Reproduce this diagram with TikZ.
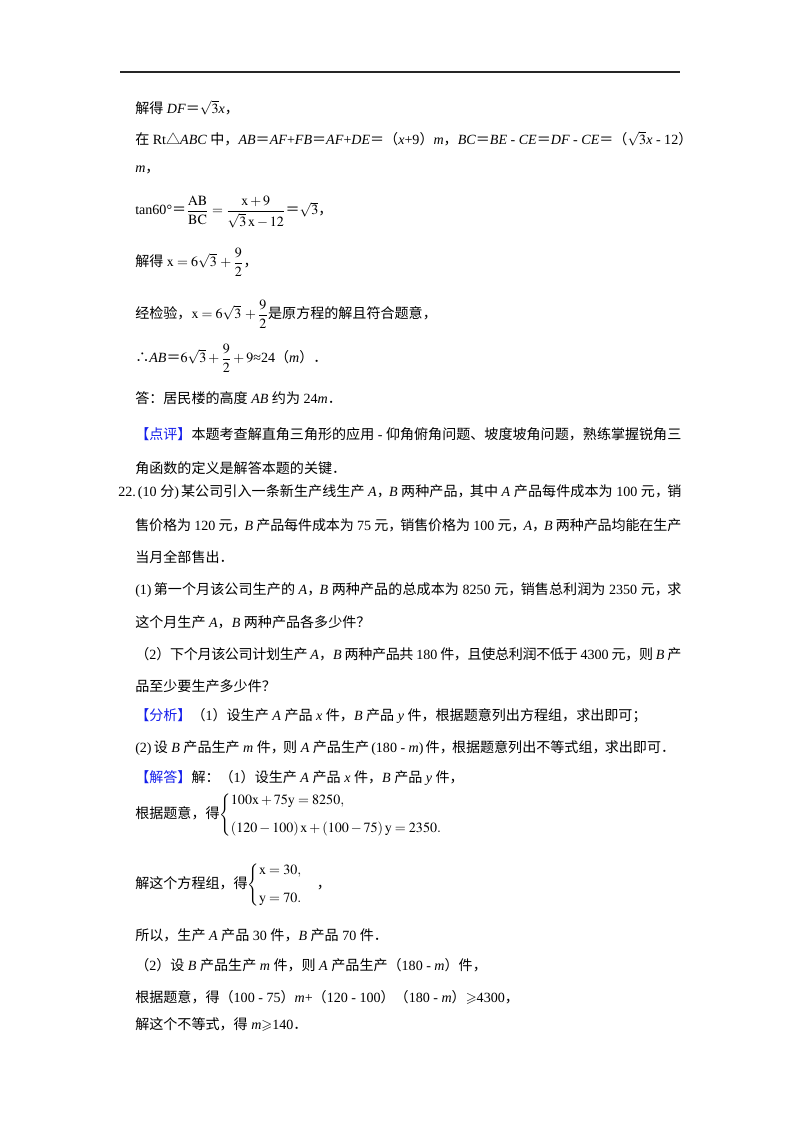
\documentclass[tikz,border=0pt]{standalone}
\usepackage{amsmath,amssymb}
\usepackage{mathptmx}
\usepackage{fontspec}
\setmainfont{Liberation Serif}
\newfontfamily\cjk{Noto Sans CJK SC}
\newfontfamily\lat{Liberation Serif}
\usepackage{tikz}
\usetikzlibrary{positioning}
\definecolor{azul}{RGB}{20, 30, 235}
\makeatletter
\newXeTeXintercharclass\cjkcls
\count@="3000
\loop
  \XeTeXcharclass\count@=\cjkcls
  \advance\count@\@ne
\ifnum\count@<"3040 \repeat
\count@="4E00
\loop
  \XeTeXcharclass\count@=\cjkcls
  \advance\count@\@ne
\ifnum\count@<"A000 \repeat
\count@="FF00
\loop
  \XeTeXcharclass\count@=\cjkcls
  \advance\count@\@ne
\ifnum\count@<"FFF0 \repeat
\XeTeXcharclass"25B3=\cjkcls
\XeTeXcharclass"2234=\cjkcls
\makeatother
\XeTeXinterchartoks 0 \cjkcls={\cjk}
\XeTeXinterchartoks 4095 \cjkcls={\cjk}
\XeTeXinterchartoks \cjkcls 0={\lat}
\XeTeXinterchartoks \cjkcls 4095={\lat}
\XeTeXinterchartoks \cjkcls \cjkcls={\hskip 0pt plus 0.12em minus 0.04em\relax}
\XeTeXinterchartokenstate=1
% narrow punctuation and justified lines
\newcommand\dou{，\kern-0.38em\ }
\newcommand\zk{\hspace{0.15em}(}
\newcommand\yk{)\hspace{0.15em}}
\newcommand\fila[2][407.8pt]{\hbox to #1{#2}}
\tikzset{
    txt/.style={anchor=west, inner sep=0pt, font=\fontsize{10.5pt}{13pt}\selectfont},
    regla/.style={line width=1.1pt, draw=black!85},
}
\begin{document}
\begin{tikzpicture}[x=0.02625cm, y=-0.02625cm]
    \fill[white] (0,0) rectangle (800,1132);
    \useasboundingbox (0,0) rectangle (800,1132);
    \draw[regla] (120,72) -- (680,72);

    \node[txt] (l1) at (135,108) {解得 \textit{DF}＝$\sqrt{3}$\textit{x}，};
    \node[txt] (l2) at (135,139) {在 Rt△\textit{ABC} 中，\textit{AB}＝\textit{AF}+\textit{FB}＝\textit{AF}+\textit{DE}＝（\textit{x}+9）\textit{m}，\textit{BC}＝\textit{BE} - \textit{CE}＝\textit{DF} - \textit{CE}＝（$\sqrt{3}$\textit{x} - 12）};
    \node[txt] (l3) at (135,170) {\textit{m}，};
    \node[txt] (l4) at (135,212) {tan60°＝$\dfrac{\mathrm{AB}}{\mathrm{BC}}=\dfrac{\mathrm{x+9}}{\sqrt{3}\,\mathrm{x-12}}$＝$\sqrt{3}$，};
    \node[txt] (l5) at (135,262) {解得 $\mathrm{x}=6\sqrt{3}\,+\dfrac{9}{2}$，};
    \node[txt] (l6) at (135,314) {经检验，$\mathrm{x}=6\sqrt{3}\,+\dfrac{9}{2}$是原方程的解且符合题意，};
    \node[txt] (l7) at (135,358) {∴\textit{AB}＝$6\sqrt{3}+\dfrac{9}{2}+9$≈24（\textit{m}）．};
    \node[txt] (l8) at (135,398) {答：居民楼的高度 \textit{AB} 约为 24\textit{m}．};
    \node[txt] (l9) at (135,434) {\fila{\textcolor{azul}{【点评】}本题考查解直角三角形的应用 - 仰角俯角问题、坡度坡角问题，熟练掌握锐角三}};
    \node[txt] (l10) at (135,468) {角函数的定义是解答本题的关键．};

    \node[txt] (q22) at (118,492) {\fila[420.5pt]{22.\zk 10 分\yk 某公司引入一条新生产线生产 \textit{A}\dou\textit{B} 两种产品\dou 其中 \textit{A} 产品每件成本为 100 元\dou 销}};
    \node[txt] (q2) at (135,525) {\fila{售价格为 120 元\dou\textit{B} 产品每件成本为 75 元\dou 销售价格为 100 元\dou\textit{A}\dou\textit{B} 两种产品均能在生产}};
    \node[txt] (q3) at (135,557) {当月全部售出．};
    \node[txt] (q4) at (135,590) {\fila{(1)\hspace{0.15em}第一个月该公司生产的 \textit{A}\dou\textit{B} 两种产品的总成本为 8250 元\dou 销售总利润为 2350 元\dou 求}};
    \node[txt] (q5) at (135,622) {这个月生产 \textit{A}，\textit{B} 两种产品各多少件？};
    \node[txt] (q6) at (135,654) {\fila{（2）下个月该公司计划生产 \textit{A}，\textit{B} 两种产品共 180 件，且使总利润不低于 4300 元，则 \textit{B} 产}};
    \node[txt] (q7) at (135,686) {品至少要生产多少件？};

    \node[txt] (fx1) at (135,716) {\textcolor{azul}{【分析】}（1）设生产 \textit{A} 产品 \textit{x} 件，\textit{B} 产品 \textit{y} 件，根据题意列出方程组，求出即可；};
    \node[txt] (fx2) at (135,748) {(2)\hspace{0.15em}设 \textit{B} 产品生产 \textit{m} 件\dou 则 \textit{A} 产品生产\zk 180 - \textit{m}\yk 件\dou 根据题意列出不等式组\dou 求出即可．};

    \node[txt] (jd1) at (135,778) {\textcolor{azul}{【解答】}解：（1）设生产 \textit{A} 产品 \textit{x} 件，\textit{B} 产品 \textit{y} 件，};
    \node[txt] (jd2) at (135,815) {根据题意，得$\left\{\begin{array}{@{}l@{}}100\mathrm{x}+75\mathrm{y}=8250,\\[8pt] (120-100)\,\mathrm{x}+(100-75)\,\mathrm{y}=2350.\end{array}\right.$};
    \node[txt] (jd3) at (135,885) {解这个方程组，得$\left\{\begin{array}{@{}l@{}}\mathrm{x}=30,\\[8pt] \mathrm{y}=70.\end{array}\right.$\quad ，};
    \node[txt] (jd4) at (135,935) {所以，生产 \textit{A} 产品 30 件，\textit{B} 产品 70 件．};
    \node[txt] (jd5) at (135,965) {（2）设 \textit{B} 产品生产 \textit{m} 件，则 \textit{A} 产品生产（180 - \textit{m}）件，};
    \node[txt] (jd6) at (135,997) {根据题意，得（100 - 75）\textit{m}+（120 - 100）（180 - \textit{m}）$\geqslant$4300，};
    \node[txt] (jd7) at (135,1025) {解这个不等式，得 \textit{m}$\geqslant$140．};
\end{tikzpicture}
\end{document}
